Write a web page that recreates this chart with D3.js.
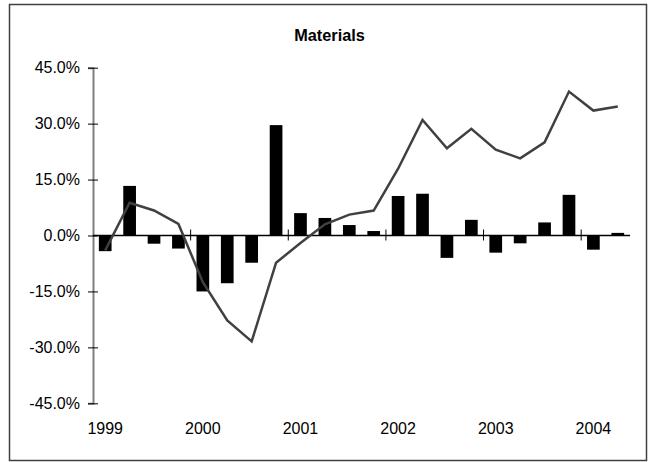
<!DOCTYPE html>
<html>
<head>
<meta charset="utf-8">
<script src="https://cdn.jsdelivr.net/npm/d3@7"></script>
<style>
  body { margin: 0; background: #fff; }
  svg { display: block; font-family: "Liberation Sans", Arial, sans-serif; }
</style>
</head>
<body>
<div id="chart"></div>
<script>
// quarterly categories, 1999 Q1 .. 2004 Q2
const quarters = ["1999Q1","1999Q2","1999Q3","1999Q4","2000Q1","2000Q2","2000Q3","2000Q4",
  "2001Q1","2001Q2","2001Q3","2001Q4","2002Q1","2002Q2","2002Q3","2002Q4",
  "2003Q1","2003Q2","2003Q3","2003Q4","2004Q1","2004Q2"]

// bars: quarterly change (%)
const quarterly = [-4.2, 13.3, -2.2, -3.5, -15.0, -12.8, -7.3, 29.6, 6.0, 4.7, 2.8, 1.2,
  10.6, 11.2, -6.0, 4.2, -4.6, -2.1, 3.5, 10.9, -3.8, 0.7]

// line: year-over-year change (%)
const yearly = [-4.0, 8.8, 6.7, 3.1, -12.5, -22.8, -28.4, -7.3, -2.0, 3.0, 5.6, 6.7,
  17.9, 31.0, 23.4, 28.6, 23.0, 20.7, 25.0, 38.6, 33.5, 34.6]

const yTicks = [-45, -30, -15, 0, 15, 30, 45]
const yearLabels = ["1999Q1","2000Q1","2001Q1","2002Q1","2003Q1","2004Q1"]

const width = 648, height = 462
const margin = ({top: 67.7, right: 18, bottom: 58.7, left: 93})

const svg = d3.select("#chart").append("svg")
  .attr("width", width)
  .attr("height", height)

// outer frame
svg.append("rect")
  .attr("x", 9.5).attr("y", 4.5)
  .attr("width", 637).attr("height", 456)
  .attr("fill", "none")
  .attr("stroke", "#404040")
  .attr("stroke-width", 1.5)

svg.append("text")
  .attr("x", 329.5).attr("y", 40.5)
  .attr("text-anchor", "middle")
  .attr("font-size", 16.3)
  .attr("font-weight", "bold")
  .attr("fill", "#000")
  .text("Materials")

const x = d3.scaleBand()
  .domain(quarters)
  .range([margin.left, width - margin.right])
  .paddingInner(0.48)
  .paddingOuter(0.24)

const y = d3.scaleLinear()
  .domain([-45, 45])
  .range([height - margin.bottom, margin.top])

// y axis
const yAxis = svg.append("g")
  .attr("transform", `translate(${margin.left},0)`)
  .call(d3.axisLeft(y).tickValues(yTicks).tickSize(5).tickPadding(8)
    .tickFormat(d => d.toFixed(1) + "%"))
yAxis.select(".domain").attr("stroke", "#808080").attr("stroke-width", 2)
yAxis.selectAll(".tick line").attr("x1", -5).attr("x2", 5).attr("stroke", "#000")
yAxis.selectAll(".tick text").attr("font-size", 16).attr("fill", "#000")
  .attr("font-family", "Liberation Sans, Arial, sans-serif")

// bars
svg.append("g")
  .selectAll("rect")
  .data(quarters)
  .join("rect")
  .attr("x", d => x(d))
  .attr("width", x.bandwidth())
  .attr("y", (d, i) => y(Math.max(0, quarterly[i])))
  .attr("height", (d, i) => Math.abs(y(quarterly[i]) - y(0)))
  .attr("fill", "#000")

// zero line with year separators
const step = x.step()
svg.append("line")
  .attr("x1", margin.left).attr("x2", width - margin.right)
  .attr("y1", y(0)).attr("y2", y(0))
  .attr("stroke", "#000").attr("stroke-width", 1.5)

svg.append("g")
  .selectAll("line")
  .data(yearLabels.slice(1))
  .join("line")
  .attr("x1", d => x(d) - step * x.paddingOuter())
  .attr("x2", d => x(d) - step * x.paddingOuter())
  .attr("y1", y(0) - 6).attr("y2", y(0) + 5)
  .attr("stroke", "#000").attr("stroke-width", 1)

// year labels along the bottom
svg.append("g")
  .selectAll("text")
  .data(yearLabels)
  .join("text")
  .attr("x", d => x(d) + x.bandwidth() / 2)
  .attr("y", 433.5)
  .attr("text-anchor", "middle")
  .attr("font-size", 16)
  .attr("fill", "#000")
  .text(d => d.slice(0, 4))

// year-over-year line
const line = d3.line()
  .x((d, i) => x(quarters[i]) + x.bandwidth() / 2)
  .y(d => y(d))

svg.append("path")
  .datum(yearly)
  .attr("d", line)
  .attr("fill", "none")
  .attr("stroke", "#404040")
  .attr("stroke-width", 2.5)
  .attr("stroke-linejoin", "miter")
</script>
</body>
</html>
